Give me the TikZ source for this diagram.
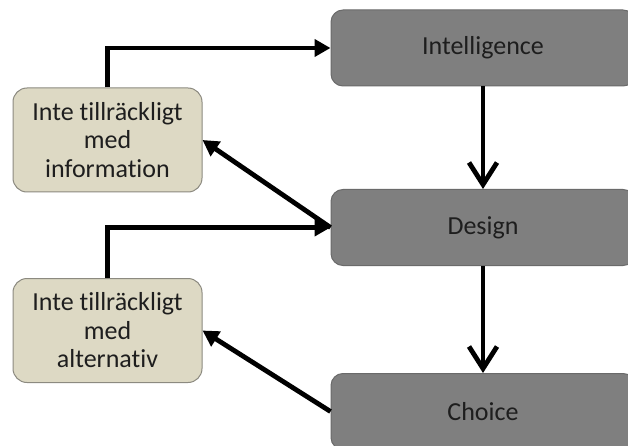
\documentclass[tikz,border=0pt]{standalone}
\usepackage{fontspec}
\setmainfont{Carlito}[RawFeature={-liga}]
\usetikzlibrary{arrows.meta}
\definecolor{stagefill}{HTML}{7F7F7F}
\definecolor{stageline}{HTML}{6A6A6A}
\definecolor{notefill}{HTML}{DDD9C4}
\definecolor{noteline}{HTML}{8C8A80}
\definecolor{inktext}{HTML}{1E1E1E}
\tikzset{
  x=1pt, y=-1pt,
  stagebox/.style={draw=stageline, fill=stagefill, line width=1pt, rounded corners=12pt,
    minimum width=304pt, minimum height=76pt, inner sep=0pt, text=inktext,
    font=\fontsize{26}{28.5}\selectfont},
  notebox/.style={draw=noteline, fill=notefill, line width=1pt, rounded corners=14pt,
    minimum width=189pt, minimum height=104pt, inner sep=0pt, text=inktext,
    align=center, font=\fontsize{26}{28.5}\selectfont},
  flow/.style={line width=4.8pt, -{Straight Barb[length=22pt, width=28pt, line width=4.8pt]}},
  loopback/.style={line width=4.8pt, -{Triangle[length=16pt, width=17pt]}}
}
\begin{document}
\begin{tikzpicture}
\useasboundingbox (0,0) rectangle (628,446);
\clip (0,0) rectangle (628,446);
\fill[white] (0,0) rectangle (628,446);

% main process stages
\node[stagebox] (intel)  at (483,48)    {Intelligence};
\node[stagebox] (design) at (483,227.5) {Design};
\node[stagebox] (choice) at (483,411.5) {Choice};

% side notes
\node[notebox] (info) at (107.5,140) {Inte tillräckligt\\med\\information};
\node[notebox] (alt)  at (107.5,330.5) {Inte tillräckligt\\med\\alternativ};

% forward flow
\draw[flow] (intel.south) -- (design.north);
\draw[flow] (design.south) -- (choice.north);

% feedback loops
\draw[loopback] (info.north) |- (intel.west);
\draw[loopback] (design.west) -- (info.east);
\draw[loopback] (alt.north) |- (design.west);
\draw[loopback] (choice.west) -- (alt.east);
\end{tikzpicture}
\end{document}
